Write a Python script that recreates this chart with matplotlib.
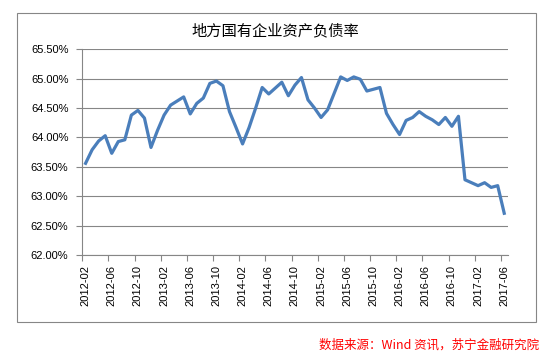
import matplotlib
matplotlib.use("Agg")
import matplotlib.pyplot as plt
from matplotlib.patches import Rectangle
from matplotlib.ticker import FuncFormatter

# ── data ─────────────────────────────────────────────────────────────────────
months = [f"{y}-{m:02d}" for y in range(2012, 2018) for m in range(1, 13)]
months = months[1:months.index("2017-06") + 1]   # 2012-02 .. 2017-06

debt_ratio = [
    63.56, 63.79, 63.94, 64.03, 63.73, 63.93, 63.96, 64.38, 64.46, 64.33, 63.83, 64.12,
    64.38, 64.55, 64.62, 64.69, 64.40, 64.58, 64.67, 64.92, 64.96, 64.88, 64.44, 64.17,
    63.89, 64.17, 64.50, 64.85, 64.74, 64.84, 64.94, 64.71, 64.89, 65.02, 64.64, 64.50,
    64.34, 64.47, 64.75, 65.03, 64.97, 65.03, 64.99, 64.79, 64.82, 64.85, 64.41, 64.22,
    64.05, 64.29, 64.34, 64.44, 64.36, 64.30, 64.22, 64.34, 64.19, 64.36, 63.28, 63.23,
    63.18, 63.23, 63.15, 63.18, 62.71,
]

y_ticks = [62.0, 62.5, 63.0, 63.5, 64.0, 64.5, 65.0, 65.5]

title = "地方国有企业资产负债率"
source = "数据来源：Wind 资讯，苏宁金融研究院"

# ── style ────────────────────────────────────────────────────────────────────
GRAY = "#868686"
BLUE = "#4A7EBB"
plt.rcParams["font.family"] = ["Liberation Sans", "DejaVu Sans"]
cjk = ["Noto Sans CJK SC", "DejaVu Sans"]

fig = plt.figure(figsize=(5.47, 3.56), dpi=100)
fig.patch.set_facecolor("white")

# outer chart frame
fig.add_artist(Rectangle((16.7 / 547, 1 - 321.7 / 356), (536 - 16.7) / 547, (321.7 - 12.7) / 356,
                         transform=fig.transFigure, fill=False, edgecolor=GRAY, linewidth=0.8))

ax = fig.add_axes([82.3 / 547, 1 - 255 / 356, (507.5 - 82.3) / 547, (255 - 49.3) / 356])

x = list(range(len(months)))
ax.plot(x, debt_ratio, color=BLUE, linewidth=2.3, solid_joinstyle="round", zorder=3)

ax.set_xlim(-0.5, len(months) - 0.5)
ax.set_ylim(y_ticks[0], y_ticks[-1])
ax.set_yticks(y_ticks)
ax.yaxis.set_major_formatter(FuncFormatter(lambda v, p: f"{v:.2f}%"))
ax.grid(axis="y", color=GRAY, linewidth=0.8)
ax.set_axisbelow(True)

# category labels every 4 months, tick marks between categories
label_idx = list(range(0, len(months), 4))
ax.set_xticks(label_idx)
ax.set_xticklabels([months[i] for i in label_idx], rotation=90, fontsize=8)
ax.tick_params(axis="x", length=0, pad=7)
ax.set_xticks([i - 0.5 for i in label_idx], minor=True)
ax.tick_params(axis="x", which="minor", length=4, color=GRAY, width=0.8)
ax.tick_params(axis="y", length=4, color=GRAY, width=0.8, labelsize=8, pad=6)

for side in ("top", "right"):
    ax.spines[side].set_visible(False)
for side in ("left", "bottom"):
    ax.spines[side].set_color(GRAY)
    ax.spines[side].set_linewidth(0.8)

fig.text(275 / 547, 1 - 30.7 / 356, title, family=cjk, fontsize=11,
         ha="center", va="center")
fig.text(539 / 547, 1 - 345 / 356, source, family=cjk, fontsize=9, style="italic",
         color="#FF0000", ha="right", va="center")

fig.savefig("out.png", dpi=100)
